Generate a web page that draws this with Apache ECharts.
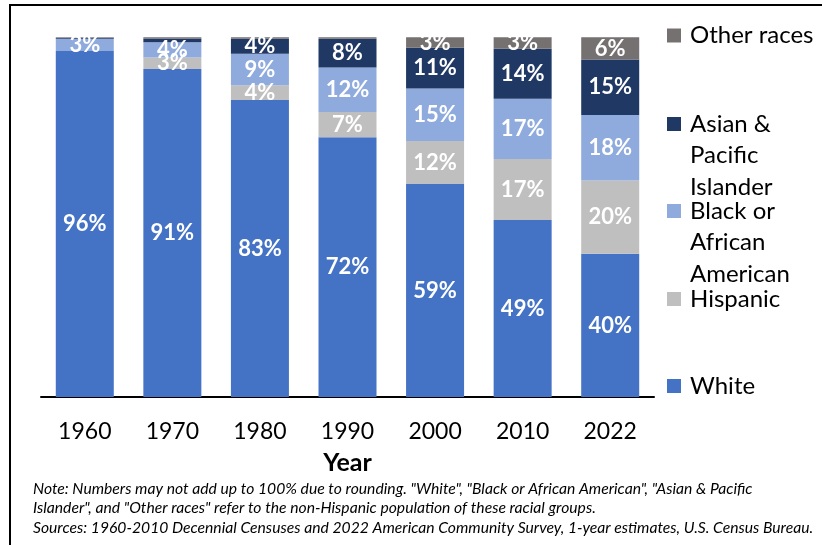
<!DOCTYPE html>
<html><head><meta charset="utf-8">
<script src="https://cdn.jsdelivr.net/npm/echarts@6/dist/echarts.min.js"></script>
<style>html,body{margin:0;padding:0;background:#fff}#c{width:822px;height:545px}</style>
</head><body><div id="c"></div>
<script>
const years = ['1960','1970','1980','1990','2000','2010','2022'];
const white    = [96.2, 91.2, 82.6, 72.2, 59.2, 49.2, 39.8];
const hispanic = [0,    3.2,  4.1,  7.0, 12.0, 17.0, 20.4];
const black    = [3.4,  4.2,  8.7, 12.4, 14.6, 16.7, 18.2];
const asian    = [0.3,  1.1,  4.2,  8.0, 11.3, 13.9, 15.4];
const other    = [0.1,  0.3,  0.4,  0.4,  2.9,  3.2,  6.2];
const names = ['White','Hispanic','Black or African American','Asian & Pacific Islander','Other races'];
const legendFirst = {
  'White':'White','Hispanic':'Hispanic',
  'Black or African American':'Black or',
  'Asian & Pacific Islander':'Asian &',
  'Other races':'Other races'
};
const legendRest = {
  'Black or African American':'African\nAmerican',
  'Asian & Pacific Islander':'Pacific\nIslander'
};
const colors = ['#4472C4','#BFBFBF','#8FAADC','#203864','#767171'];
const dataSets = [white, hispanic, black, asian, other];
const legendCenters = [386, 299, 211, 124, 35.5];

const font = 'Lato, "Open Sans", sans-serif';
const legendFontSize = 24, legendLine = 31.5;
const chart = echarts.init(document.getElementById('c'));
const series = names.map((n,i)=>({
  name:n, type:'bar', stack:'t', barWidth:58, data:dataSets[i],
  itemStyle:{color:colors[i]},
  label:{show:true, position:'inside', color:'#fff', fontWeight:'bold', fontSize:22, fontFamily:font,
    formatter:p=> p.value>=2.5 ? Math.round(p.value)+'%' : ''}
}));
const legends = names.map((n,i)=>({
  data:[n], orient:'vertical', left:667, top:legendCenters[i]-12, padding:0,
  itemWidth:14, itemHeight:14, icon:'rect',
  formatter:()=>legendFirst[n],
  textStyle:{fontFamily:font, fontSize:legendFontSize, color:'#000', lineHeight:14, padding:[0,0,0,4]},
  selectedMode:false
}));
const graphics = [
  {type:'rect', shape:{x:10, y:5, width:900, height:700}, style:{fill:'none', stroke:'#000', lineWidth:2}, silent:true},
  {type:'text', left:33, top:479, style:{fontFamily:font, fontStyle:'italic', fontSize:15.7, fill:'#000', lineHeight:19.5,
    text:'Note: Numbers may not add up to 100% due to rounding. "White", "Black or African American", "Asian & Pacific\nIslander", and "Other races" refer to the non-Hispanic population of these racial groups.\nSources: 1960-2010 Decennial Censuses and 2022 American Community Survey, 1-year estimates, U.S. Census Bureau.'}}
];
names.forEach((n,i)=>{
  if (legendRest[n]) {
    graphics.push({type:'text', left:690, top:legendCenters[i]+legendLine/2, silent:true,
      style:{fontFamily:font, fontSize:legendFontSize, fill:'#000', lineHeight:legendLine, text:legendRest[n]}});
  }
});
chart.setOption({
  animation:false,
  color:colors,
  grid:{left:41, right:822-654, top:37.3, bottom:545-397},
  xAxis:{type:'category', data:years,
    axisLine:{lineStyle:{color:'#000', width:2}}, axisTick:{show:false},
    axisLabel:{fontFamily:font, fontSize:23, color:'#000', margin:23},
    name:'Year', nameLocation:'middle', nameGap:53,
    nameTextStyle:{fontFamily:font, fontSize:25, fontWeight:'bold', color:'#000'}},
  yAxis:{type:'value', min:0, max:100, show:false},
  legend:legends,
  series:series,
  graphic:graphics
});
</script></body></html>
